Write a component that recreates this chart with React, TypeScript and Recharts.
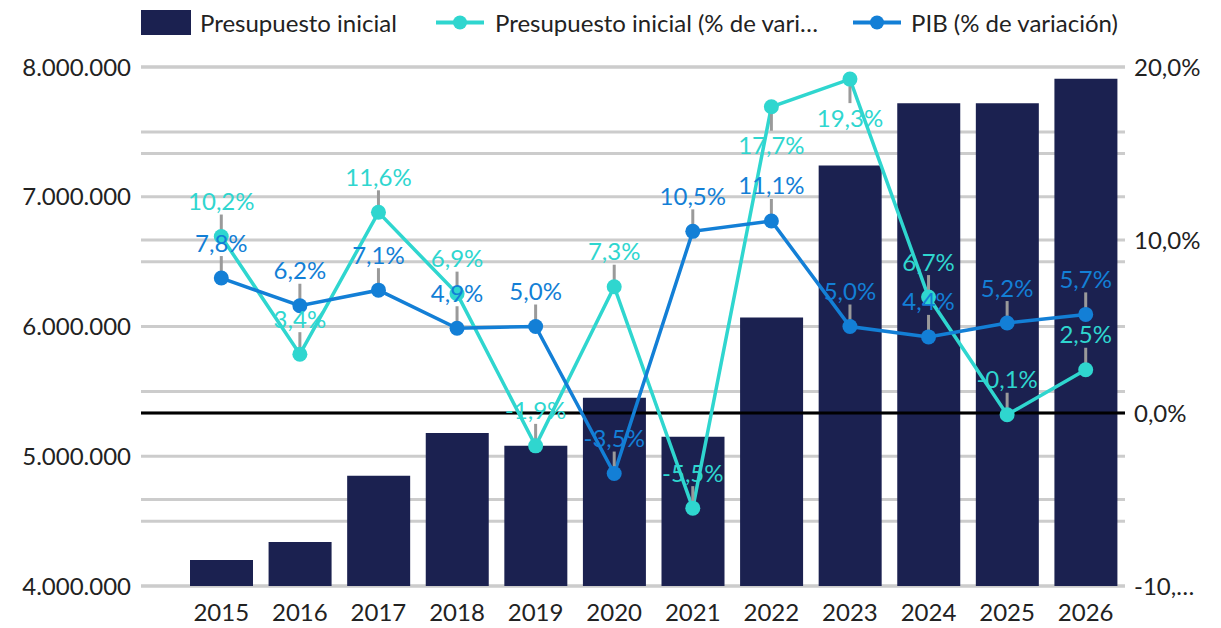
import { ComposedChart, Bar, Line, XAxis, YAxis, CartesianGrid, ReferenceLine, LabelList } from "recharts";

const years = ["2015", "2016", "2017", "2018", "2019", "2020", "2021", "2022", "2023", "2024", "2025", "2026"];
const presupuesto = [4200000, 4340000, 4850000, 5180000, 5080000, 5450000, 5150000, 6070000, 7240000, 7720000, 7720000, 7910000];
const presupuestoVar = [10.2, 3.4, 11.6, 6.9, -1.9, 7.3, -5.5, 17.7, 19.3, 6.7, -0.1, 2.5];
const pibVar = [7.8, 6.2, 7.1, 4.9, 5.0, -3.5, 10.5, 11.1, 5.0, 4.4, 5.2, 5.7];

const leftTicks = [4000000, 4500000, 5000000, 5500000, 6000000, 6500000, 7000000, 7500000, 8000000];
const rightTicks = [-10, -5, 0, 5, 10, 15, 20];

const NAVY = "#1b2150";
const CYAN = "#2fd6cf";
const BLUE = "#137fd6";
const LEADER = "#9a9a9a";
const FONT = "Lato, 'Open Sans', sans-serif";

const data = years.map((year, i) => ({
  year,
  presupuesto: presupuesto[i],
  presupuestoVar: presupuestoVar[i],
  pib: pibVar[i],
}));

const fmtThousands = (v: number) => String(Math.round(v)).replace(/\B(?=(\d{3})+(?!\d))/g, ".");
const fmtPct = (v: number) => `${v.toFixed(1).replace(".", ",")}%`;

// labels go under the point when it sits near the top of the plot
const below = (v: number) => v > 15;

function makeDot(color: string) {
  return (props: any) => {
    const { cx, cy, payload, dataKey, index } = props;
    if (cx == null || cy == null) return <g key={`d-${index}`} />;
    const v = payload?.[dataKey] as number;
    const down = below(v);
    return (
      <g key={`d-${dataKey}-${index}`}>
        <line x1={cx} x2={cx} y1={cy} y2={down ? cy + 24 : cy - 22} stroke={LEADER} strokeWidth={3} />
        <circle cx={cx} cy={cy} r={7.5} fill={color} />
      </g>
    );
  };
}

function makeLabel(color: string) {
  return (props: any) => {
    const { x, y, value, index } = props;
    if (x == null || y == null || typeof value !== "number") return null;
    const down = below(value);
    return (
      <text
        key={`l-${color}-${index}`}
        x={x}
        y={down ? y + 38 : y - 36}
        textAnchor="middle"
        dominantBaseline="central"
        fill={color}
        fontSize={24}
        fontFamily={FONT}
      >
        {fmtPct(value)}
      </text>
    );
  };
}

function LegendRow() {
  const text = { fontFamily: FONT, fontSize: 24, color: "#222", whiteSpace: "nowrap" as const, lineHeight: "25px" };
  return (
    <div style={{ position: "absolute", left: 0, top: 10, width: 1221, height: 25 }}>
      <div style={{ position: "absolute", left: 141, top: 0, width: 50, height: 25, background: NAVY }} />
      <div style={{ position: "absolute", left: 200, top: 0, ...text }}>Presupuesto inicial</div>
      <svg style={{ position: "absolute", left: 436, top: 0 }} width={48} height={25}>
        <line x1={0} x2={48} y1={12.5} y2={12.5} stroke={CYAN} strokeWidth={4} />
        <circle cx={24} cy={12.5} r={7} fill={CYAN} />
      </svg>
      <div style={{ position: "absolute", left: 495, top: 0, ...text }}>Presupuesto inicial (% de vari…</div>
      <svg style={{ position: "absolute", left: 853, top: 0 }} width={48} height={25}>
        <line x1={0} x2={48} y1={12.5} y2={12.5} stroke={BLUE} strokeWidth={4} />
        <circle cx={24} cy={12.5} r={7} fill={BLUE} />
      </svg>
      <div style={{ position: "absolute", left: 911, top: 0, ...text }}>PIB (% de variación)</div>
    </div>
  );
}

export default function App() {
  const tick = { fontSize: 24, fill: "#222", fontFamily: FONT };
  return (
    <div style={{ position: "absolute", left: 0, top: 0, width: 1221, height: 628, background: "#fff" }}>
      <LegendRow />
      <ComposedChart width={1221} height={628} data={data} margin={{ top: 67, right: 6, left: 10, bottom: 2 }}>
        <CartesianGrid yAxisId="left" vertical={false} stroke="#cccccc" strokeWidth={3} />
        <CartesianGrid yAxisId="right" vertical={false} stroke="#cccccc" strokeWidth={3} />
        <XAxis
          dataKey="year"
          axisLine={false}
          tickLine={false}
          padding={{ left: 41, right: 0 }}
          tick={tick}
          tickMargin={12}
          height={40}
          interval={0}
        />
        <YAxis
          yAxisId="left"
          width={131}
          domain={[4000000, 8000000]}
          ticks={leftTicks}
          axisLine={false}
          tickLine={false}
          tickMargin={4}
          tick={tick}
          tickFormatter={(v: number) => (v % 1000000 === 0 ? fmtThousands(v) : "")}
        />
        <YAxis
          yAxisId="right"
          orientation="right"
          width={90}
          domain={[-10, 20]}
          ticks={rightTicks}
          axisLine={false}
          tickLine={false}
          tickMargin={3}
          tick={tick}
          tickFormatter={(v: number) => (v === -10 ? "-10,…" : v % 10 === 0 ? fmtPct(v) : "")}
        />
        <Bar yAxisId="left" dataKey="presupuesto" name="Presupuesto inicial" fill={NAVY} barSize={63} isAnimationActive={false} />
        <ReferenceLine yAxisId="right" y={0} stroke="#000" strokeWidth={3} />
        <Line
          yAxisId="right"
          dataKey="presupuestoVar"
          name="Presupuesto inicial (% de variación)"
          stroke={CYAN}
          strokeWidth={3.5}
          dot={makeDot(CYAN)}
          activeDot={false}
          isAnimationActive={false}
        >
          <LabelList dataKey="presupuestoVar" content={makeLabel(CYAN)} />
        </Line>
        <Line
          yAxisId="right"
          dataKey="pib"
          name="PIB (% de variación)"
          stroke={BLUE}
          strokeWidth={3.5}
          dot={makeDot(BLUE)}
          activeDot={false}
          isAnimationActive={false}
        >
          <LabelList dataKey="pib" content={makeLabel(BLUE)} />
        </Line>
      </ComposedChart>
    </div>
  );
}
